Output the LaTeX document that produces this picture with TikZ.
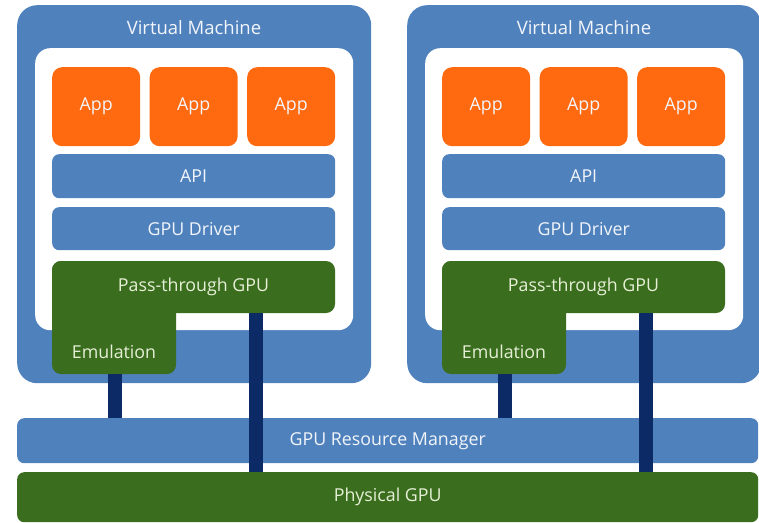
\documentclass[tikz,border=0pt]{standalone}
\usepackage{fontspec}
\setmainfont{Open Sans}
\definecolor{vmblue}{HTML}{4F81BD}
\definecolor{apporange}{HTML}{FF6A10}
\definecolor{gpugreen}{HTML}{3B6D1F}
\definecolor{navy}{HTML}{0B2A66}
\definecolor{lighttext}{HTML}{F2F5FA}
\definecolor{greentext}{HTML}{E6F0D6}
\tikzset{
  txt/.style={font=\fontsize{17.8}{20}\selectfont},
  vmbox/.style={fill=vmblue, draw=none, rounded corners=20pt, anchor=north west, inner sep=0pt},
  whitebox/.style={fill=white, draw=none, rounded corners=15pt, anchor=north west, inner sep=0pt},
  appbox/.style={fill=apporange, draw=none, rounded corners=10pt, anchor=north west, inner sep=0pt,
    minimum width=88pt, minimum height=79pt, text=lighttext, txt},
  barbox/.style={fill=vmblue, draw=none, rounded corners=7pt, anchor=north west, inner sep=0pt,
    text=lighttext, txt},
  greenbar/.style={fill=gpugreen, draw=none, rounded corners=7pt, anchor=north west, inner sep=0pt,
    text=greentext, txt},
  vmlabel/.style={text=lighttext, font=\fontsize{18.5}{21}\selectfont},
  greenlabel/.style={text=greentext, txt},
  conn/.style={draw=navy, line width=14pt}
}
\newcommand\vmachine[2]{%
  \begin{scope}[xshift=#2pt]
    \node[vmbox, minimum width=354pt, minimum height=378pt] (#1vm) at (17,5) {};
    \node[vmlabel] (#1vmlabel) at (194,28) {Virtual Machine};
    \node[whitebox, minimum width=318pt, minimum height=282pt] (#1inner) at (35,48) {};
    \node[appbox] (#1appa) at (52,67) {App};
    \node[appbox] (#1appb) at (149.5,67) {App};
    \node[appbox] (#1appc) at (247,67) {App};
    \node[barbox, minimum width=283pt, minimum height=44pt] (#1api) at (52,154) {API};
    \node[barbox, minimum width=283pt, minimum height=43pt] (#1drv) at (52,207) {GPU Driver};
    \fill[gpugreen, rounded corners=9pt] (52,261) rectangle (335,313);
    \fill[gpugreen, rounded corners=9pt] (52,261) rectangle (176,374);
    \node[greenlabel] (#1pass) at (193.5,287) {Pass-through GPU};
    \node[greenlabel] (#1emu) at (114,352) {Emulation};
    \coordinate (#1emubot) at (114.5,374);
    \coordinate (#1passbot) at (256,313);
  \end{scope}
}
\begin{document}
\begin{tikzpicture}[x=1pt,y=-1pt]
\useasboundingbox (0,0) rectangle (759,522);
\fill[white] (0,0) rectangle (759,522);
\vmachine{l}{0}
\vmachine{r}{390}
\node[barbox, minimum width=741pt, minimum height=45pt] (grm) at (17,418) {GPU Resource Manager};
\node[greenbar, minimum width=741pt, minimum height=50pt] (pgpu) at (17,472) {Physical GPU};
\draw[conn] (lemubot) -- (lemubot |- grm.north);
\draw[conn] (remubot) -- (remubot |- grm.north);
\draw[conn] (lpassbot) -- (lpassbot |- pgpu.north);
\draw[conn] (rpassbot) -- (rpassbot |- pgpu.north);
\end{tikzpicture}
\end{document}
